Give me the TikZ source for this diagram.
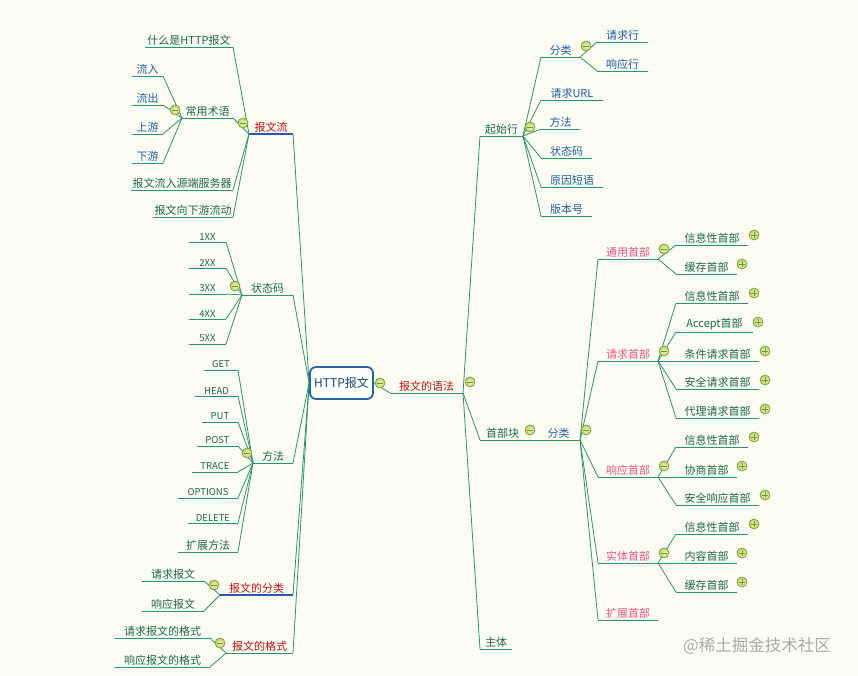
\documentclass[tikz,border=0pt]{standalone}
\usepackage{fontspec}
\setmainfont{Noto Sans CJK SC}
\usepackage{xcolor}
\usepackage{tikz}
\usetikzlibrary{calc}
\definecolor{bgcream}{RGB}{253,252,242}
\definecolor{branch}{RGB}{38,150,110}
\definecolor{leafgreen}{RGB}{25,105,75}
\definecolor{leafblue}{RGB}{30,95,165}
\definecolor{topicred}{RGB}{200,15,15}
\definecolor{catpink}{RGB}{235,85,125}
\definecolor{selblue}{RGB}{40,90,180}
\definecolor{rootblue}{RGB}{35,100,170}
\definecolor{markedge}{RGB}{110,150,40}
\definecolor{markin}{RGB}{240,245,190}
\definecolor{markout}{RGB}{185,212,105}
\definecolor{wmark}{RGB}{170,170,170}
\tikzset{
  uline/.style   ={draw=branch, line width=0.8pt},
  link/.style    ={draw=branch, line width=0.8pt},
  selline/.style ={draw=selblue, line width=1.8pt},
  txt/.style     ={font=\fontsize{11}{13}\selectfont, inner sep=0.5pt, anchor=south, yshift=1.2pt},
  lat/.style     ={font=\fontsize{9.5}{11}\selectfont},
  tred/.style    ={text=topicred},
  tgreen/.style  ={text=leafgreen},
  tblue/.style   ={text=leafblue},
  tpink/.style   ={text=catpink},
  rootbox/.style ={draw=rootblue, line width=1.8pt, rounded corners=6pt, fill=white!60!bgcream,
                   minimum width=63pt, minimum height=32pt, text=rootblue!70!black,
                   font=\fontsize{12}{14}\selectfont},
  minusmark/.style={circle, draw=markedge, line width=0.6pt, inner color=markin, outer color=markout,
                   minimum size=10pt, inner sep=0pt,
                   path picture={\draw[markedge, line width=0.9pt]
                     ($(path picture bounding box.center)+(-2.8pt,0pt)$) -- ($(path picture bounding box.center)+(2.8pt,0pt)$);}},
  plusmark/.style={circle, draw=markedge, line width=0.6pt, inner color=markin, outer color=markout,
                   minimum size=10pt, inner sep=0pt,
                   path picture={\draw[markedge, line width=0.9pt]
                     ($(path picture bounding box.center)+(-2.8pt,0pt)$) -- ($(path picture bounding box.center)+(2.8pt,0pt)$)
                     ($(path picture bounding box.center)+(0pt,-2.8pt)$) -- ($(path picture bounding box.center)+(0pt,2.8pt)$);}},
}
% #1 name, #2 left x, #3 right x, #4 y, #5 text style, #6 text
\newcommand{\tpc}[6]{%
  \coordinate (#1-l) at (#2,#4);
  \coordinate (#1-r) at (#3,#4);
  \draw[uline] (#1-l) -- (#1-r);
  \node[txt,#5] (#1) at ($(#1-l)!0.5!(#1-r)$) {#6};
}
\begin{document}
\begin{tikzpicture}[x=1pt,y=-1pt]
  \fill[bgcream] (0,0) rectangle (858,676);
  \useasboundingbox (0,0) rectangle (858,676);

  % root
  \node[rootbox] (http) at (341.5,383) {HTTP报文};

  % left: 报文流
  \tpc{flow}{249}{293}{134}{tred}{报文流}
  \draw[selline] (flow-l) -- (flow-r);
  \tpc{what}{145}{233}{47}{tgreen}{什么是HTTP报文}
  \tpc{term}{182}{233}{118}{tgreen}{常用术语}
  \tpc{inflow}{132}{163}{76}{tblue}{流入}
  \tpc{outflow}{132}{163}{105}{tblue}{流出}
  \tpc{upstr}{132}{163}{134}{tblue}{上游}
  \tpc{downstr}{132}{163}{163}{tblue}{下游}
  \tpc{toserver}{131}{233}{190}{tgreen}{报文流入源端服务器}
  \tpc{todown}{153}{233}{217}{tgreen}{报文向下游流动}
  \draw[link] (flow-l) -- (what-r);
  \draw[link] (flow-l) -- (term-r);
  \draw[link] (flow-l) -- (toserver-r);
  \draw[link] (flow-l) -- (todown-r);
  \draw[link] (term-l) -- (inflow-r);
  \draw[link] (term-l) -- (outflow-r);
  \draw[link] (term-l) -- (upstr-r);
  \draw[link] (term-l) -- (downstr-r);

  % left: 状态码
  \tpc{status}{242}{293}{295}{tgreen}{状态码}
  \tpc{sa}{189}{226}{242}{tgreen,lat}{1XX}
  \tpc{sb}{189}{226}{268}{tgreen,lat}{2XX}
  \tpc{sc}{189}{226}{294}{tgreen,lat}{3XX}
  \tpc{sd}{189}{226}{319}{tgreen,lat}{4XX}
  \tpc{se}{189}{226}{344}{tgreen,lat}{5XX}
  \draw[link] (status-l) -- (sa-r);
  \draw[link] (status-l) -- (sb-r);
  \draw[link] (status-l) -- (sc-r);
  \draw[link] (status-l) -- (sd-r);
  \draw[link] (status-l) -- (se-r);

  % left: 方法
  \tpc{method}{253}{293}{463}{tgreen}{方法}
  \tpc{mget}{204}{238}{370}{tgreen,lat}{GET}
  \tpc{mhead}{195}{238}{396}{tgreen,lat}{HEAD}
  \tpc{mput}{202}{238}{422}{tgreen,lat}{PUT}
  \tpc{mpost}{197}{238}{446}{tgreen,lat}{POST}
  \tpc{mtrace}{192}{238}{472}{tgreen,lat}{TRACE}
  \tpc{mopt}{178}{238}{498}{tgreen,lat}{OPTIONS}
  \tpc{mdel}{188}{238}{523}{tgreen,lat}{DELETE}
  \tpc{mext}{178}{238}{552}{tgreen}{扩展方法}
  \draw[link] (method-l) -- (mget-r);
  \draw[link] (method-l) -- (mhead-r);
  \draw[link] (method-l) -- (mput-r);
  \draw[link] (method-l) -- (mpost-r);
  \draw[link] (method-l) -- (mtrace-r);
  \draw[link] (method-l) -- (mopt-r);
  \draw[link] (method-l) -- (mdel-r);
  \draw[link] (method-l) -- (mext-r);

  % left: 报文的分类, 报文的格式
  \tpc{cls}{220}{293}{595}{tred}{报文的分类}
  \draw[selline] (cls-l) -- (cls-r);
  \tpc{reqmsg}{142}{204}{581}{tgreen}{请求报文}
  \tpc{respmsg}{142}{204}{611}{tgreen}{响应报文}
  \draw[link] (cls-l) -- (reqmsg-r);
  \draw[link] (cls-l) -- (respmsg-r);
  \tpc{fmt}{226}{293}{653}{tred}{报文的格式}
  \tpc{reqfmt}{115}{210}{638}{tgreen}{请求报文的格式}
  \tpc{respfmt}{115}{210}{667}{tgreen}{响应报文的格式}
  \draw[link] (fmt-l) -- (reqfmt-r);
  \draw[link] (fmt-l) -- (respfmt-r);

  \draw[link] (http.west) -- (flow-r);
  \draw[link] (http.west) -- (status-r);
  \draw[link] (http.west) -- (method-r);
  \draw[link] (http.west) -- (cls-r);
  \draw[link] (http.west) -- (fmt-r);

  % right: 报文的语法
  \tpc{syn}{390}{463}{393}{tred}{报文的语法}
  \draw[link] (http.east) -- (syn-l);
  \tpc{start}{480}{523}{136}{tgreen}{起始行}
  \tpc{head}{480}{525}{440}{tgreen}{首部块}
  \tpc{body}{480}{512}{649}{tgreen}{主体}
  \draw[link] (syn-r) -- (start-l);
  \draw[link] (syn-r) -- (head-l);
  \draw[link] (syn-r) -- (body-l);

  % 起始行
  \tpc{linecat}{541}{580}{57}{tblue}{分类}
  \tpc{reqline}{597}{648}{42}{tblue}{请求行}
  \tpc{respline}{597}{648}{71}{tblue}{响应行}
  \tpc{url}{541}{603}{100}{tblue}{请求URL}
  \tpc{lmeth}{541}{580}{129}{tblue}{方法}
  \tpc{lcode}{541}{592}{158}{tblue}{状态码}
  \tpc{reason}{541}{603}{187}{tblue}{原因短语}
  \tpc{version}{541}{592}{216}{tblue}{版本号}
  \draw[link] (start-r) -- (linecat-l);
  \draw[link] (start-r) -- (url-l);
  \draw[link] (start-r) -- (lmeth-l);
  \draw[link] (start-r) -- (lcode-l);
  \draw[link] (start-r) -- (reason-l);
  \draw[link] (start-r) -- (version-l);
  \draw[link] (linecat-r) -- (reqline-l);
  \draw[link] (linecat-r) -- (respline-l);

  % 首部块
  \tpc{hcat}{525}{580}{440}{tblue,xshift=6pt}{分类}
  \draw[link] (head-r) -- (hcat-l);
  \tpc{gen}{598}{658}{259}{tpink}{通用首部}
  \tpc{reqh}{598}{658}{361}{tpink}{请求首部}
  \tpc{resph}{598}{658}{477}{tpink}{响应首部}
  \tpc{ent}{598}{658}{563}{tpink}{实体首部}
  \tpc{exth}{598}{658}{620}{tpink}{扩展首部}
  \draw[link] (hcat-r) -- (gen-l);
  \draw[link] (hcat-r) -- (reqh-l);
  \draw[link] (hcat-r) -- (resph-l);
  \draw[link] (hcat-r) -- (ent-l);
  \draw[link] (hcat-r) -- (exth-l);

  \tpc{gena}{676}{748}{245}{tgreen}{信息性首部}
  \tpc{genb}{676}{737}{274}{tgreen}{缓存首部}
  \draw[link] (gen-r) -- (gena-l);
  \draw[link] (gen-r) -- (genb-l);

  \tpc{reqa}{676}{748}{303}{tgreen}{信息性首部}
  \tpc{reqb}{676}{753}{332}{tgreen}{Accept首部}
  \tpc{reqc}{676}{759}{361}{tgreen}{条件请求首部}
  \tpc{reqd}{676}{759}{389}{tgreen}{安全请求首部}
  \tpc{reqe}{676}{759}{418}{tgreen}{代理请求首部}
  \draw[link] (reqh-r) -- (reqa-l);
  \draw[link] (reqh-r) -- (reqb-l);
  \draw[link] (reqh-r) -- (reqc-l);
  \draw[link] (reqh-r) -- (reqd-l);
  \draw[link] (reqh-r) -- (reqe-l);

  \tpc{respa}{676}{748}{447}{tgreen}{信息性首部}
  \tpc{respb}{676}{737}{477}{tgreen}{协商首部}
  \tpc{respc}{676}{759}{505}{tgreen}{安全响应首部}
  \draw[link] (resph-r) -- (respa-l);
  \draw[link] (resph-r) -- (respb-l);
  \draw[link] (resph-r) -- (respc-l);

  \tpc{enta}{676}{748}{534}{tgreen}{信息性首部}
  \tpc{entb}{676}{737}{563}{tgreen}{内容首部}
  \tpc{entc}{676}{737}{592}{tgreen}{缓存首部}
  \draw[link] (ent-r) -- (enta-l);
  \draw[link] (ent-r) -- (entb-l);
  \draw[link] (ent-r) -- (entc-l);

  % collapse markers
  \node[minusmark] (m-http) at (380,383) {};
  \node[minusmark] (m-syn) at (470,382) {};
  \node[minusmark] (m-start) at (530,127) {};
  \node[minusmark] (m-linecat) at (586,46) {};
  \node[minusmark] (m-head) at (530,430) {};
  \node[minusmark] (m-hcat) at (586,430) {};
  \node[minusmark] (m-gen) at (664,249) {};
  \node[minusmark] (m-reqh) at (664,351) {};
  \node[minusmark] (m-resph) at (664,466) {};
  \node[minusmark] (m-ent) at (664,553) {};
  \node[minusmark] (m-flow) at (243,123) {};
  \node[minusmark] (m-term) at (175,110) {};
  \node[minusmark] (m-status) at (235,286) {};
  \node[minusmark] (m-method) at (247,453) {};
  \node[minusmark] (m-cls) at (214,585) {};
  \node[minusmark] (m-fmt) at (220,643) {};

  % expand markers
  \node[plusmark] (p-gena) at (754,235) {};
  \node[plusmark] (p-genb) at (742,264) {};
  \node[plusmark] (p-reqa) at (754,293) {};
  \node[plusmark] (p-reqb) at (758,322) {};
  \node[plusmark] (p-reqc) at (765,351) {};
  \node[plusmark] (p-reqd) at (765,380) {};
  \node[plusmark] (p-reqe) at (765,409) {};
  \node[plusmark] (p-respa) at (754,437) {};
  \node[plusmark] (p-respb) at (742,466) {};
  \node[plusmark] (p-respc) at (765,495) {};
  \node[plusmark] (p-enta) at (754,524) {};
  \node[plusmark] (p-entb) at (742,553) {};
  \node[plusmark] (p-entc) at (742,582) {};

  % watermark
  \node[text=wmark, font=\fontsize{16.5}{18}\selectfont, inner sep=0pt] (wm) at (757,646) {@稀土掘金技术社区};
\end{tikzpicture}
\end{document}
